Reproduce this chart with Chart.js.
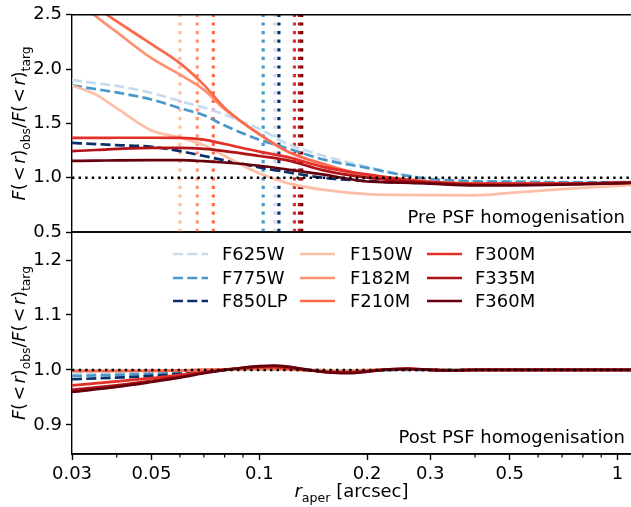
<!DOCTYPE html>
<html><head><meta charset="utf-8">
<script src="https://cdn.jsdelivr.net/npm/chart.js@4.4.1/dist/chart.umd.min.js"></script>
<style>
html,body{margin:0;padding:0;background:#fff;}
#wrap{position:relative;width:631px;height:507px;overflow:hidden;}
canvas{position:absolute;left:0;top:0;}
</style></head><body>
<div id="wrap"><canvas id="bot" width="631" height="507"></canvas><canvas id="top" width="631" height="507"></canvas></div>
<script>
// ---------------- data ----------------
const filters = ['F625W','F775W','F850LP','F150W','F182M','F210M','F300M','F335M','F360M'];
const colors  = ['#c6dbef','#4a98c9','#08306b','#fcbea5','#fc9272','#fb6a4a','#e32f27','#b11218','#67000d'];
const isDashed = [true,true,true,false,false,false,false,false,false];

// vertical dotted lines (aperture / PSF size per filter, arcsec)
const fwhmR = [0.1105,0.1025,0.1134,0.0600,0.0671,0.0744,0.1253,0.1294,0.1313];

// top panel: before PSF homogenisation
const rTop = [0.03,0.035,0.04,0.05,0.06,0.07,0.08,0.1,0.12,0.15,0.2,0.25,0.3,0.4,0.5,0.7,1.0,1.09];
const preF625W  = [1.90,1.87,1.845,1.78,1.705,1.645,1.58,1.45,1.31,1.205,1.10,1.03,0.99,0.97,0.965,0.96,0.96,0.962];
const preF775W  = [1.85,1.815,1.785,1.72,1.64,1.575,1.48,1.35,1.27,1.17,1.09,1.025,0.988,0.966,0.963,0.957,0.958,0.96];
const preF850LP = [1.32,1.31,1.30,1.285,1.245,1.20,1.16,1.095,1.05,1.00,0.97,0.955,0.95,0.94,0.94,0.945,0.955,0.958];
const preF150W  = [1.85,1.765,1.64,1.435,1.37,1.30,1.20,1.04,0.95,0.89,0.848,0.842,0.84,0.838,0.86,0.895,0.925,0.933];
const preF182M  = [2.65,2.485,2.34,2.10,1.95,1.81,1.63,1.40,1.24,1.12,1.01,0.98,0.96,0.945,0.94,0.94,0.95,0.955];
const preF210M  = [2.71,2.57,2.44,2.23,2.055,1.855,1.643,1.40,1.24,1.13,1.02,0.99,0.965,0.945,0.94,0.94,0.95,0.953];
const preF300M  = [1.367,1.367,1.368,1.368,1.367,1.35,1.31,1.24,1.19,1.10,1.03,0.985,0.96,0.945,0.945,0.945,0.955,0.958];
const preF335M  = [1.245,1.255,1.265,1.275,1.275,1.265,1.245,1.20,1.16,1.07,1.00,0.97,0.955,0.935,0.935,0.94,0.952,0.955];
const preF360M  = [1.155,1.157,1.16,1.162,1.161,1.152,1.14,1.11,1.075,1.03,0.965,0.955,0.945,0.93,0.93,0.935,0.948,0.952];

// bottom panel: after PSF homogenisation
const rBot = [0.03,0.04,0.05,0.06,0.07,0.08,0.09,0.1,0.11,0.12,0.14,0.16,0.18,0.2,0.23,0.26,0.3,0.35,0.4,0.5,0.6,0.8,1.0,1.09];
const postF625W  = [0.994,0.995,0.996,0.997,0.999,1.0,1.001,1.001,1.001,1.001,1.0,0.999,0.999,0.999,1.0,1.0,1.0,1.0,1.0,1.0,1.0,1.0,1.0,1.0];
const postF775W  = [0.989,0.991,0.993,0.995,0.998,1.0,1.001,1.001,1.001,1.001,1.0,0.999,0.999,0.999,1.0,1.0,1.0,1.0,1.0,1.0,1.0,1.0,1.0,1.0];
const postF850LP = [0.983,0.986,0.989,0.993,0.997,1.0,1.002,1.002,1.002,1.001,1.0,0.998,0.998,0.999,1.0,1.001,1.0,1.0,1.0,1.0,1.0,1.0,1.0,1.0];
const postF150W  = [0.999,0.999,0.999,0.999,1.0,1.0,1.001,1.001,1.001,1.0,1.0,0.999,0.999,1.0,1.001,1.001,1.0,1.0,1.0,1.0,1.0,1.0,1.0,1.0];
const postF182M  = [0.998,0.998,0.999,0.999,1.0,1.001,1.002,1.002,1.002,1.001,0.999,0.998,0.998,0.999,1.001,1.001,1.0,0.999,1.0,1.0,1.0,1.0,1.0,1.0];
const postF210M  = [0.998,0.998,0.998,0.999,1.0,1.001,1.002,1.003,1.003,1.002,0.999,0.997,0.997,0.999,1.001,1.002,1.0,0.999,1.0,1.0,1.0,1.0,1.0,1.0];
const postF300M  = [0.972,0.979,0.985,0.991,0.996,1.0,1.003,1.005,1.005,1.003,0.999,0.996,0.996,0.998,1.001,1.002,1.0,0.999,1.0,1.0,1.0,1.0,1.0,1.0];
const postF335M  = [0.964,0.972,0.980,0.988,0.995,1.0,1.004,1.006,1.007,1.005,0.999,0.995,0.995,0.997,1.001,1.002,1.0,0.999,1.0,1.0,1.0,1.0,1.0,1.0];
const postF360M  = [0.960,0.969,0.978,0.986,0.994,1.0,1.004,1.007,1.008,1.006,0.999,0.995,0.994,0.997,1.001,1.002,1.0,0.999,1.0,1.0,1.0,1.0,1.0,1.0];

const xMin = 0.03, xMax = 1.09;
const yTopMin = 0.5, yTopMax = 2.5;
const yBotMin = 0.847, yBotMax = 1.251;
const yTopTicks = [0.5,1.0,1.5,2.0,2.5];
const yBotTicks = [0.9,1.0,1.1,1.2];
const xMajorTicks = [0.03,0.05,0.1,0.2,0.3,0.5,1];
const xMajorLabels = ['0.03','0.05','0.1','0.2','0.3','0.5','1'];
const xMinorTicks = [0.04,0.06,0.07,0.08,0.09,0.4,0.6,0.7,0.8,0.9];
const refLevel = 1.0;
const panelLabels = ['Pre PSF homogenisation','Post PSF homogenisation'];

const preSeries  = [preF625W,preF775W,preF850LP,preF150W,preF182M,preF210M,preF300M,preF335M,preF360M];
const postSeries = [postF625W,postF775W,postF850LP,postF150W,postF182M,postF210M,postF300M,postF335M,postF360M];

// ---------------- styling ----------------
const FONT = "'DejaVu Sans'";
Chart.defaults.font.family = FONT;
Chart.defaults.font.size = 18;
Chart.defaults.color = '#000';
const LW = 2.7, DASH = [10,4.3];
const SPINE = 1.4;

function curveSets(rs, series){
  return series.map((vals,i)=>({
    label: filters[i],
    data: rs.map((r,k)=>({x:r,y:vals[k]})),
    borderColor: colors[i], backgroundColor: colors[i],
    borderWidth: LW, borderDash: isDashed[i]?DASH:[],
    pointRadius:0, cubicInterpolationMode:'monotone', fill:false,
    order: 10 - i
  }));
}
function hline(){
  return {label:'ref', data:[{x:xMin,y:refLevel},{x:xMax,y:refLevel}],
    borderColor:'#000', borderWidth:2.4, borderDash:[2.4,4.2], pointRadius:0, order:0};
}
function vlines(){
  return fwhmR.map((r,i)=>({label:'v'+i, data:[{x:r,y:yTopMin},{x:r,y:yTopMax}],
    borderColor:colors[i], borderWidth:3.2, borderDash:[3.2,5.4], pointRadius:0, order:20+i}));
}

function drawRich(ctx, segs, size){
  const sub = size*0.7;
  let w = 0;
  const items = segs.map(s=>{
    if (s.gap !== undefined){ const it={gap:true,x:w}; w += s.gap; return it; }
    const fs = s.s ? sub : size;
    ctx.font = (s.i?'italic ':'') + fs + 'px ' + FONT;
    const mw = ctx.measureText(s.t).width;
    const it = {s, fs, mw, x:w};
    w += mw;
    return it;
  });
  return {w, draw:(x0,y0)=>{
    items.forEach(it=>{
      if (it.gap) return;
      ctx.font = (it.s.i?'italic ':'') + it.fs + 'px ' + FONT;
      ctx.fillText(it.s.t, x0+it.x, y0 + (it.s.s ? 4.5 : 0));
    });
  }};
}
const ySegs = [{t:'F',i:1},{t:'('},{gap:2.5},{t:'<'},{gap:2.5},{t:'r',i:1},{t:')'},{t:'obs',s:1},{t:'/'},
               {t:'F',i:1},{t:'('},{gap:2.5},{t:'<'},{gap:2.5},{t:'r',i:1},{t:')'},{t:'targ',s:1}];
const xSegs = [{t:'r',i:1},{t:'aper',s:1},{t:' [arcsec]'}];

function yTitle(ctx, area){
  ctx.save();
  ctx.fillStyle = '#000'; ctx.textBaseline = 'alphabetic'; ctx.textAlign='left';
  const cy = (area.top+area.bottom)/2;
  ctx.translate(25, cy);
  ctx.rotate(-Math.PI/2);
  const r = drawRich(ctx, ySegs, 18);
  const k = Math.min(1, 154 / r.w);
  ctx.scale(k, 1);
  r.draw(-r.w/2, 0);
  ctx.restore();
}

const framePlugin = {
  id:'frame',
  afterDraw(chart){
    const {ctx, chartArea:a} = chart;
    ctx.save();
    ctx.strokeStyle='#000'; ctx.lineWidth=SPINE;
    ctx.beginPath();
    ctx.moveTo(a.left, a.top); ctx.lineTo(a.right, a.top);
    ctx.moveTo(a.left, a.bottom); ctx.lineTo(a.right, a.bottom);
    ctx.stroke();
    ctx.restore();
    yTitle(ctx, a);
    const isTop = chart.canvas.id==='top';
    ctx.save();
    ctx.fillStyle='#000'; ctx.font = '18px '+FONT; ctx.textAlign='right'; ctx.textBaseline='alphabetic';
    ctx.fillText(isTop?panelLabels[0]:panelLabels[1], 625, isTop?222.5:443);
    ctx.restore();
    if(!isTop){
      const xs = chart.scales.x;
      ctx.save();
      ctx.strokeStyle='#000'; ctx.lineWidth=1.2;
      ctx.beginPath();
      xMinorTicks.forEach(v=>{const p=xs.getPixelForValue(v); ctx.moveTo(p,a.bottom); ctx.lineTo(p,a.bottom+3.6);});
      ctx.stroke();
      ctx.restore();
      // x title
      ctx.save();
      ctx.fillStyle='#000'; ctx.textAlign='left'; ctx.textBaseline='alphabetic';
      const r = drawRich(ctx, xSegs, 18);
      r.draw((a.left+a.right)/2 - r.w/2, 497);
      ctx.restore();
      // legend (3 columns, filled column-wise)
      const colLine=[173,300,427], colText=[222,350,475], rowY=[254,278,301];
      ctx.save();
      filters.forEach((f,i)=>{
        const c=Math.floor(i/3), rr=i%3;
        ctx.strokeStyle=colors[i]; ctx.lineWidth=LW; ctx.setLineDash(isDashed[i]?DASH:[]);
        ctx.beginPath(); ctx.moveTo(colLine[c], rowY[rr]); ctx.lineTo(colLine[c]+35, rowY[rr]); ctx.stroke();
        ctx.setLineDash([]);
        ctx.fillStyle='#000'; ctx.font='18px '+FONT; ctx.textAlign='left'; ctx.textBaseline='middle';
        ctx.fillText(f, colText[c], rowY[rr]+1);
      });
      ctx.restore();
    }
  }
};

function yScale(min,max,ticks){
  return {
    type:'linear', min, max,
    afterFit(s){ s.width = 72; },
    afterBuildTicks(s){ s.ticks = ticks.map(v=>({value:v})); },
    ticks:{ callback:(v)=>Number(v).toFixed(1), padding:4, font:{size:18}, color:'#000', autoSkip:false },
    grid:{ drawOnChartArea:false, drawTicks:true, tickLength:6, tickWidth:SPINE, tickColor:'#000' },
    border:{ display:true, color:'#000', width:SPINE }
  };
}

new Chart(document.getElementById('top'), {
  type:'line',
  data:{ datasets: [...vlines(), ...curveSets(rTop, preSeries), hline()] },
  options:{
    responsive:false, animation:false, devicePixelRatio:1,
    layout:{ padding:{top:12,bottom:275,left:0,right:0} },
    plugins:{ legend:{display:false}, tooltip:{enabled:false} },
    scales:{
      x:{ type:'logarithmic', min:xMin, max:xMax, display:false },
      y: yScale(yTopMin, yTopMax, yTopTicks)
    }
  },
  plugins:[framePlugin]
});

new Chart(document.getElementById('bot'), {
  type:'line',
  data:{ datasets: [...curveSets(rBot, postSeries), hline()] },
  options:{
    responsive:false, animation:false, devicePixelRatio:1,
    layout:{ padding:{top:232,bottom:0,left:0,right:0} },
    plugins:{ legend:{display:false}, tooltip:{enabled:false} },
    scales:{
      x:{ type:'logarithmic', min:xMin, max:xMax,
          afterFit(s){ s.height = 53; },
          afterBuildTicks(s){ s.ticks = xMajorTicks.map(v=>({value:v})); },
          ticks:{ callback:(v)=>{const k=xMajorTicks.indexOf(v); return k>=0?xMajorLabels[k]:'';}, padding:4, maxRotation:0, autoSkip:false, font:{size:18}, color:'#000' },
          grid:{ drawOnChartArea:false, drawTicks:true, tickLength:6, tickWidth:SPINE, tickColor:'#000' },
          border:{ display:true, color:'#000', width:SPINE } },
      y: yScale(yBotMin, yBotMax, yBotTicks)
    }
  },
  plugins:[framePlugin]
});
</script>
</body></html>
